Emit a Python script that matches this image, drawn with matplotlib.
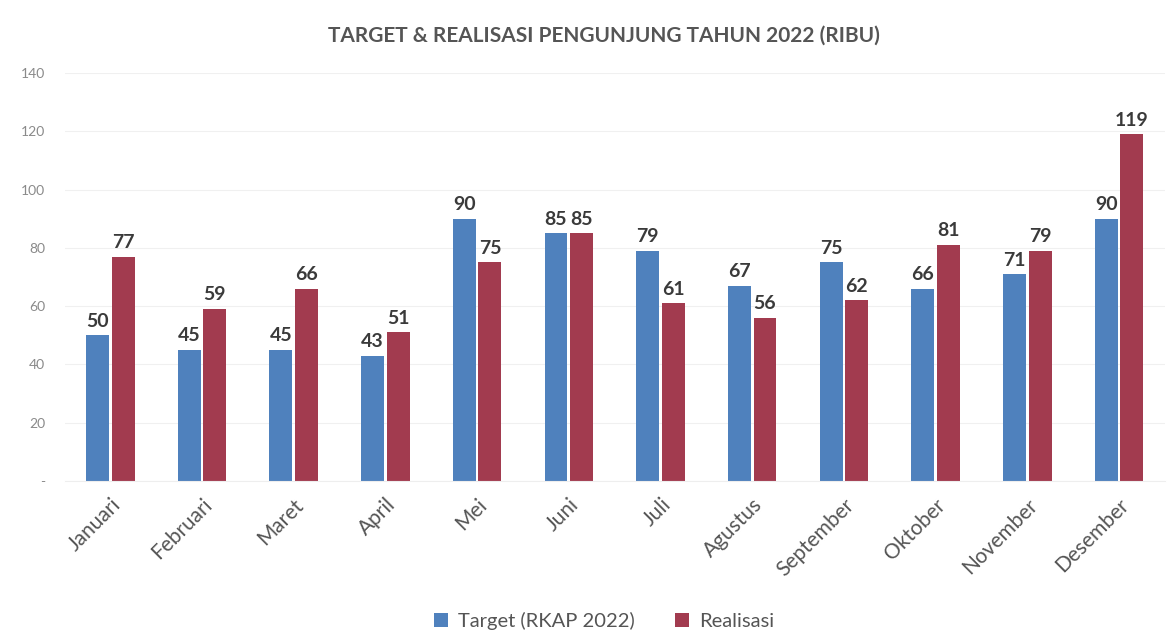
import matplotlib.pyplot as plt
import numpy as np

plt.rcParams['font.family'] = ['Lato', 'DejaVu Sans']

# data
bulan = ['Januari', 'Februari', 'Maret', 'April', 'Mei', 'Juni', 'Juli',
         'Agustus', 'September', 'Oktober', 'November', 'Desember']
target = [50, 45, 45, 43, 90, 85, 79, 67, 75, 66, 71, 90]
realisasi = [77, 59, 66, 51, 75, 85, 61, 56, 62, 81, 79, 119]
y_ticks = [0, 20, 40, 60, 80, 100, 120, 140]
y_labels = ['-', '20', '40', '60', '80', '100', '120', '140']

warna_target = '#4f81bd'
warna_real = '#a23b4f'

fig = plt.figure(figsize=(11.73, 6.42), dpi=100)
ax = fig.add_axes([0.055, 0.251, 0.938, 0.635])

x = np.arange(len(bulan))
w = 0.25
gap = 0.03
b1 = ax.bar(x - (w + gap) / 2, target, w, color=warna_target, label='Target (RKAP 2022)')
b2 = ax.bar(x + (w + gap) / 2, realisasi, w, color=warna_real, label='Realisasi')

# label nilai di atas batang
for bars in (b1, b2):
    for b in bars:
        ax.annotate(f'{int(b.get_height())}', (b.get_x() + b.get_width() / 2, b.get_height()),
                    xytext=(0, 4), textcoords='offset points', ha='center', va='bottom',
                    fontsize=14, fontweight='bold', color='#3a3a3a')

ax.set_xlim(-0.5, len(bulan) - 0.5)
ax.set_ylim(0, 140)
ax.set_yticks(y_ticks)
ax.set_yticklabels(y_labels, fontsize=10, color='#8a8a8a')
ax.set_xticks(x)
ax.set_xticklabels(bulan, rotation=45, ha='right', rotation_mode='anchor',
                   fontsize=15, color='#555555')
ax.tick_params(axis='both', length=0)
ax.tick_params(axis='y', pad=14)
ax.tick_params(axis='x', pad=10)

ax.grid(axis='y', color='#f0f0f0', linewidth=0.8)
ax.set_axisbelow(True)
for s in ['top', 'right', 'left']:
    ax.spines[s].set_visible(False)
ax.spines['bottom'].set_color('#eeeeee')

fig.suptitle('TARGET & REALISASI PENGUNJUNG TAHUN 2022 (RIBU)', x=0.515, y=0.96,
             fontsize=15, fontweight='bold', color='#555555')

leg = fig.legend(loc='lower center', bbox_to_anchor=(0.515, -0.01), ncol=2, frameon=False,
                 fontsize=14.5, handlelength=0.7, handleheight=0.7, columnspacing=2.0,
                 handletextpad=0.5)
for t in leg.get_texts():
    t.set_color('#555555')

fig.savefig('out.png', dpi=100)
